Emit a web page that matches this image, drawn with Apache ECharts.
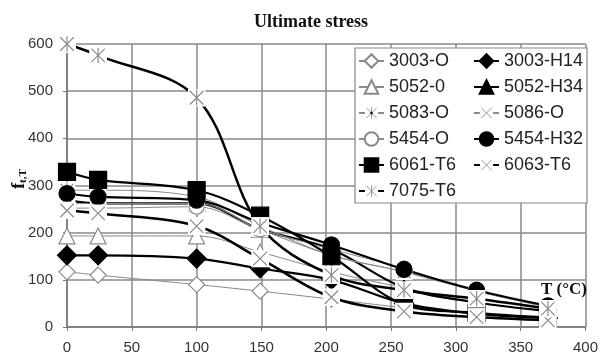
<!DOCTYPE html>
<html>
<head>
<meta charset="utf-8">
<script src="https://cdn.jsdelivr.net/npm/echarts@6/dist/echarts.min.js"></script>
<style>html,body{margin:0;padding:0;background:#fff}#c{width:601px;height:356px}</style>
</head>
<body>
<div id="c"></div>
<script>
// ---- data ----
const temps = [0, 24, 100, 149, 204, 260, 316, 371];
const xTicks = [0, 50, 100, 150, 200, 250, 300, 350, 400];
const yTicks = [0, 100, 200, 300, 400, 500, 600];
const seriesNames = ['3003-O', '3003-H14', '5052-0', '5052-H34', '5083-O', '5086-O',
                     '5454-O', '5454-H32', '6061-T6', '6063-T6', '7075-T6'];
const v3003O   = [117, 110, 90, 76, 59, 41, 28, 19];
const v3003H14 = [152, 152, 145, 124, 100, 50, 28, 19];
const v5052O   = [193, 193, 193, 159, 117, 83, 52, 34];
const v5052H34 = [269, 262, 262, 207, 165, 83, 52, 34];
const v5083O   = [290, 290, 276, 214, 152, 117, 76, 42];
const v5086O   = [262, 262, 262, 207, 152, 117, 76, 42];
const v5454O   = [252, 252, 255, 207, 165, 124, 76, 45];
const v5454H32 = [283, 276, 269, 221, 174, 122, 78, 45];
const v6061T6  = [329, 312, 290, 236, 150, 48, 30, 20];
const v6063T6  = [247, 241, 214, 145, 63, 33, 21, 14];
const v7075T6  = [600, 576, 486, 214, 110, 78, 60, 39];
const seriesValues = [v3003O, v3003H14, v5052O, v5052H34, v5083O, v5086O,
                      v5454O, v5454H32, v6061T6, v6063T6, v7075T6];
const legendCol1 = ['3003-O', '5052-0', '5083-O', '5454-O', '6061-T6', '7075-T6'];
const legendCol2 = ['3003-H14', '5052-H34', '5086-O', '5454-H32', '6063-T6'];

// ---- styles ----
const GRAY = '#8a8a8a';
const BLACK = '#000';
function svgSymbol(inner) {
  const svg = "<svg xmlns='http://www.w3.org/2000/svg' width='20' height='20' viewBox='0 0 20 20'>" +
    "<rect x='0' y='0' width='20' height='20' fill='#ffffff'/>" + inner + "</svg>";
  return 'image://data:image/svg+xml;charset=utf-8,' + encodeURIComponent(svg);
}
const X_LINES = "<path d='M2.5 2.5L17.5 17.5M17.5 2.5L2.5 17.5' stroke='#8a8a8a' stroke-width='1.3' fill='none'/>";
const V_LINE = "<path d='M10 1.5L10 18.5' stroke='#8a8a8a' stroke-width='1.3' fill='none'/>";
const DOT = "<circle cx='10' cy='10' r='1.8' fill='#000'/>";
const X_SYM = svgSymbol(X_LINES);
const AST_SYM = svgSymbol(X_LINES + V_LINE);
const AST_DOT_SYM = svgSymbol(X_LINES + V_LINE + DOT);

const styles = {
  '3003-O':   {sym: 'diamond', size: 16, fill: '#fff', stroke: GRAY, line: GRAY, lw: 1},
  '3003-H14': {sym: 'diamond', size: 19, fill: BLACK, stroke: BLACK, line: BLACK, lw: 2.2},
  '5052-0':   {sym: 'triangle', size: 16, fill: '#fff', stroke: GRAY, line: GRAY, lw: 1},
  '5052-H34': {sym: 'triangle', size: 16, fill: BLACK, stroke: BLACK, line: BLACK, lw: 2.2},
  '5083-O':   {sym: AST_DOT_SYM, size: 17, fill: BLACK, stroke: GRAY, line: GRAY, lw: 1},
  '5086-O':   {sym: X_SYM, size: 17, fill: GRAY, stroke: GRAY, line: GRAY, lw: 1},
  '5454-O':   {sym: 'circle', size: 15, fill: '#fff', stroke: GRAY, line: GRAY, lw: 1},
  '5454-H32': {sym: 'circle', size: 16, fill: BLACK, stroke: BLACK, line: BLACK, lw: 2.2},
  '6061-T6':  {sym: 'rect', size: 17, fill: BLACK, stroke: BLACK, line: BLACK, lw: 2.2},
  '6063-T6':  {sym: X_SYM, size: 18, fill: BLACK, stroke: GRAY, line: BLACK, lw: 2.5},
  '7075-T6':  {sym: AST_SYM, size: 18, fill: BLACK, stroke: GRAY, line: BLACK, lw: 2.5}
};

const series = seriesNames.map((name, k) => {
  const st = styles[name];
  return {
    name: name,
    type: 'line',
    smooth: 0.35,
    symbol: st.sym,
    symbolSize: st.size,
    showAllSymbol: true,
    lineStyle: {color: st.line, width: st.lw},
    itemStyle: {color: st.fill, borderColor: st.stroke, borderWidth: 1.2},
    emphasis: {disabled: true},
    data: temps.map((t, i) => [t, seriesValues[k][i]])
  };
});

const legendBase = {
  orient: 'vertical', top: 52, itemGap: 8, itemWidth: 25, itemHeight: 17,
  padding: 0, selectedMode: false,
  textStyle: {fontFamily: 'Liberation Sans', fontSize: 18, color: '#222', lineHeight: 18}
};

const chart = echarts.init(document.getElementById('c'), null, {renderer: 'canvas'});
chart.setOption({
  animation: false,
  backgroundColor: '#fff',
  title: {
    text: 'Ultimate stress', left: 311, top: 13, textAlign: 'center', padding: 0,
    textStyle: {fontFamily: 'Liberation Serif', fontWeight: 'bold', fontSize: 18, color: '#111'}
  },
  grid: {left: 67, right: 13, top: 44, bottom: 29},
  xAxis: {
    type: 'value', min: xTicks[0], max: xTicks[xTicks.length - 1], interval: xTicks[1] - xTicks[0],
    axisLine: {lineStyle: {color: '#777', width: 1.5}},
    axisTick: {show: true, length: 4, lineStyle: {color: '#777'}},
    axisLabel: {margin: 13, fontFamily: 'Liberation Sans', fontSize: 15, color: '#333'},
    splitLine: {show: true, lineStyle: {color: GRAY, width: 1.5}}
  },
  yAxis: {
    type: 'value', min: yTicks[0], max: yTicks[yTicks.length - 1], interval: yTicks[1] - yTicks[0],
    axisLine: {show: true, lineStyle: {color: '#777', width: 1.5}},
    axisTick: {show: true, length: 4, lineStyle: {color: '#777'}},
    axisLabel: {margin: 14, fontFamily: 'Liberation Sans', fontSize: 15, color: '#333'},
    splitLine: {show: true, lineStyle: {color: GRAY, width: 1.5}}
  },
  legend: [
    Object.assign({}, legendBase, {left: 358, data: legendCol1}),
    Object.assign({}, legendBase, {left: 473, data: legendCol2})
  ],
  graphic: [
    {type: 'rect', z: 3, shape: {x: 355, y: 48, width: 232, height: 155},
     style: {fill: '#fff', stroke: '#888', lineWidth: 1.2}},
    {type: 'text', z: 5, x: 564, y: 290,
     style: {text: 'T (°C)', font: 'bold 17px "Liberation Serif"', fill: '#111',
             align: 'center', verticalAlign: 'middle'}},
    {type: 'text', z: 5, x: 19, y: 179, rotation: Math.PI / 2,
     style: {text: '{a|f}{b|t,T}', align: 'center', verticalAlign: 'middle',
             rich: {a: {fontFamily: 'Liberation Serif', fontWeight: 'bold', fontSize: 18, fill: '#111'},
                    b: {fontFamily: 'Liberation Serif', fontWeight: 'bold', fontSize: 11, fill: '#111',
                        verticalAlign: 'bottom', padding: [8, 0, 0, 0]}}}}
  ],
  series: series
});
</script>
</body>
</html>
